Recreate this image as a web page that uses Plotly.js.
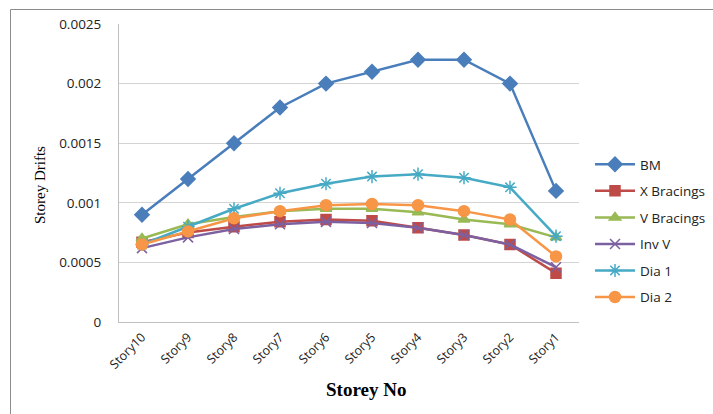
<!DOCTYPE html>
<html>
<head>
<meta charset="utf-8">
<script src="https://cdn.plot.ly/plotly-3.0.1.min.js"></script>
<style>html,body{margin:0;padding:0;background:#fff;}#chart{width:713px;height:414px;}</style>
</head>
<body>
<div id="chart"></div>
<script>
const stories = ["Story10","Story9","Story8","Story7","Story6","Story5","Story4","Story3","Story2","Story1"];
const seriesNames = ["BM","X Bracings","V Bracings","Inv V","Dia 1","Dia 2"];
const bm        = [0.0009, 0.0012, 0.0015, 0.0018, 0.002, 0.0021, 0.0022, 0.0022, 0.002, 0.0011];
const xBracings = [0.00067, 0.00075, 0.0008, 0.00084, 0.00086, 0.00085, 0.00079, 0.00073, 0.00065, 0.00041];
const vBracings = [0.0007, 0.00082, 0.00088, 0.00093, 0.00095, 0.00095, 0.00092, 0.00086, 0.00082, 0.00071];
const invV      = [0.00062, 0.00071, 0.00078, 0.00082, 0.00084, 0.00083, 0.00079, 0.00073, 0.00065, 0.00046];
const dia1      = [0.00065, 0.0008, 0.00095, 0.00108, 0.00116, 0.00122, 0.00124, 0.00121, 0.00113, 0.00072];
const dia2      = [0.00065, 0.00076, 0.00087, 0.00093, 0.00098, 0.00099, 0.00098, 0.00093, 0.00086, 0.00055];
const yTitle = "Storey Drifts";
const xTitle = "Storey No";

const values = [bm, xBracings, vBracings, invV, dia1, dia2];
const colors = ["#4A7EBB", "#BE4B48", "#98B954", "#7D60A0", "#46AAC5", "#F79646"];
const symbols = ["diamond", "square", "triangle-up", "x-thin-open", "asterisk-open", "circle"];
const sizes = [11, 10, 10, 10, 11, 11];

const traces = values.map((v, i) => ({
  x: stories, y: v, name: seriesNames[i], type: "scatter", mode: "lines+markers",
  legendgroup: "g" + i,
  line: {color: colors[i], width: 2.5},
  marker: {symbol: symbols[i], size: sizes[i], color: colors[i], line: {color: colors[i], width: 1.5}}
}));

const layout = {
  width: 713, height: 414,
  margin: {l: 119, r: 134, t: 24, b: 92, autoexpand: false},
  paper_bgcolor: "#fff", plot_bgcolor: "#fff",
  font: {family: "Open Sans, sans-serif", size: 12, color: "#222"},
  xaxis: {
    type: "category", range: [-0.5, 9.5], tickangle: -45,
    showgrid: false, showline: true, linecolor: "#BFBFBF", linewidth: 1,
    ticks: "", ticklabelstandoff: 2, tickfont: {size: 12.5, family: "Open Sans, sans-serif"}, zeroline: false
  },
  yaxis: {
    range: [0, 0.0025], dtick: 0.0005, tick0: 0,
    showgrid: true, gridcolor: "#D4D4D4", gridwidth: 1,
    showline: true, linecolor: "#BFBFBF", linewidth: 1, zeroline: false,
    ticks: "", ticklabelstandoff: 14, tickfont: {size: 13.5, family: "Open Sans, sans-serif"}
  },
  legend: {
    x: 0, xref: "paper", y: (322 - 231) / 298, yanchor: "middle",
    font: {size: 13.5, family: "Open Sans, sans-serif"},
    tracegroupgap: 6, itemwidth: 40
  },
  annotations: [
    {text: yTitle, xref: "paper", yref: "paper", x: (40 - 119) / 460, y: (322 - 185) / 298,
     textangle: -90, showarrow: false, xanchor: "center", yanchor: "middle",
     font: {family: "Liberation Serif, serif", size: 15, color: "#000"}},
    {text: "<b>" + xTitle + "</b>", xref: "paper", yref: "paper", x: (366 - 119) / 460, y: -(389 - 322) / 298,
     showarrow: false, xanchor: "center", yanchor: "middle",
     font: {family: "Liberation Serif, serif", size: 19, color: "#000"}}
  ],
  shapes: [
    {type: "rect", xref: "paper", yref: "paper",
     x0: (10.5 - 119) / 460, x1: (720 - 119) / 460, y0: -(420 - 322) / 298, y1: (322 - 9.5) / 298,
     line: {color: "#8C8C8C", width: 1}, fillcolor: "rgba(0,0,0,0)", layer: "below"}
  ]
};
layout.legend.x = (590 - 119) / 460;

Plotly.newPlot("chart", traces, layout, {displayModeBar: false, staticPlot: true});
</script>
</body>
</html>
